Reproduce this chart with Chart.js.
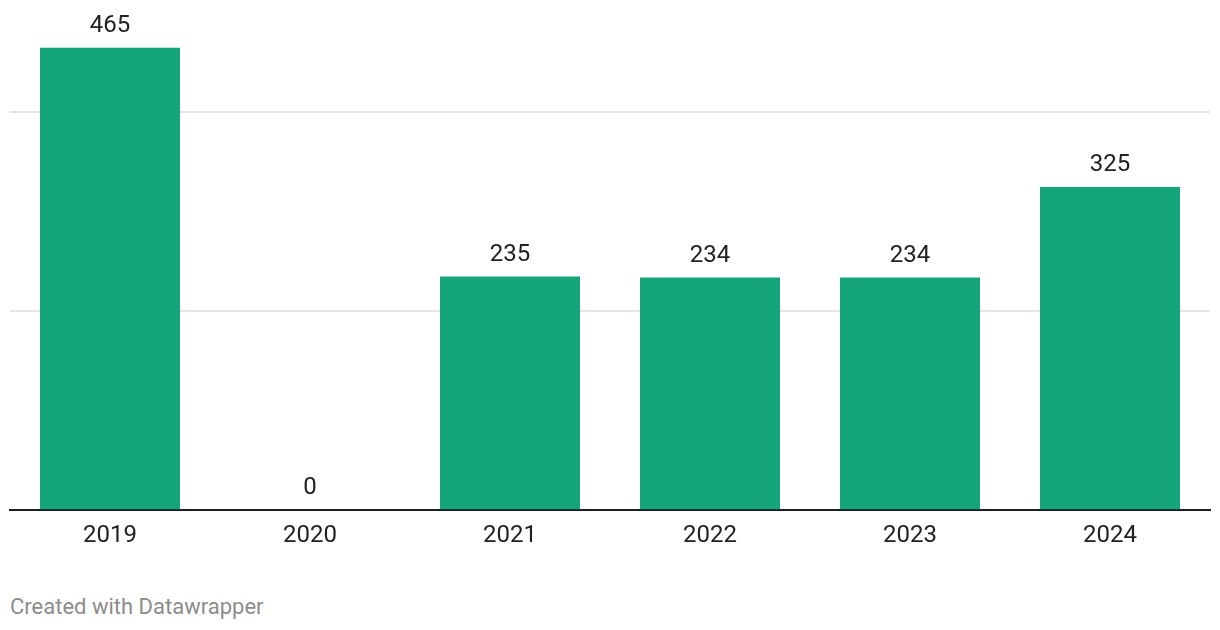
<!DOCTYPE html>
<html>
<head>
<meta charset="utf-8">
<script src="https://cdn.jsdelivr.net/npm/chart.js@4"></script>
<style>
    body { margin: 0; background: #fff; }
    #wrap { position: relative; width: 1220px; height: 630px; }
    #footer {
        position: absolute; left: 10px; top: 594px;
        font-family: Roboto, sans-serif; font-size: 22px; color: #8c8c8c;
    }
</style>
</head>
<body>
<div id="wrap">
    <div style="width:1220px;height:553px"><canvas id="chart"></canvas></div>
    <div id="footer">Created with Datawrapper</div>
</div>
<script>
// Категории и значения
var years = ['2019', '2020', '2021', '2022', '2023', '2024']
var values = [465, 0, 235, 234, 234, 325]
var gridTicks = [0, 200, 400]

// подписи над столбиками
var barLabels = {
    id: 'barLabels',
    afterDatasetsDraw: function (chart) {
        var ctx = chart.ctx
        var meta = chart.getDatasetMeta(0)
        ctx.save()
        ctx.font = '24px Roboto'
        ctx.fillStyle = '#222222'
        ctx.textAlign = 'center'
        ctx.textBaseline = 'alphabetic'
        meta.data.forEach(function (bar, i) {
            ctx.fillText(values[i], bar.x, bar.y - 16)
        })
        ctx.restore()
    }
}

new Chart(document.getElementById('chart').getContext('2d'), {
    type: 'bar',
    data: {
        labels: years,
        datasets: [{
            data: values,
            backgroundColor: '#14a57a',
            borderWidth: 0,
            barPercentage: 0.7,
            categoryPercentage: 1
        }]
    },
    options: {
        responsive: true,
        maintainAspectRatio: false,
        animation: false,
        layout: { padding: { left: 10, right: 10, top: 13, bottom: 0 } },
        plugins: {
            legend: { display: false },
            tooltip: { enabled: false }
        },
        scales: {
            x: {
                grid: { display: false },
                border: { display: true, color: '#1d1d1d', width: 2 },
                ticks: {
                    color: '#222222',
                    font: { family: 'Roboto', size: 24 },
                    padding: 3
                }
            },
            y: {
                min: 0,
                max: 500,
                afterBuildTicks: function (scale) {
                    scale.ticks = gridTicks.map(function (v) { return { value: v } })
                },
                grid: {
                    color: function (c) { return c.tick && c.tick.value === 0 ? 'rgba(0,0,0,0)' : '#e5e5e5' },
                    lineWidth: 2,
                    drawTicks: false
                },
                border: { display: false },
                ticks: { display: false }
            }
        }
    },
    plugins: [barLabels]
})
</script>
</body>
</html>
